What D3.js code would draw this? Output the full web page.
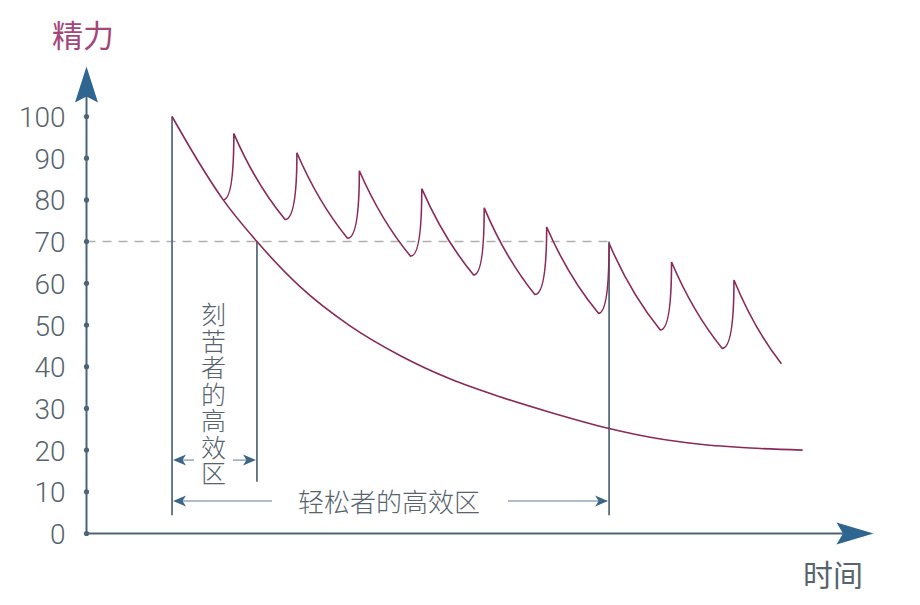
<!DOCTYPE html>
<html>
<head>
<meta charset="utf-8">
<script src="https://d3js.org/d3.v7.min.js"></script>
<style>
  body { margin: 0; background: #fff; }
  svg text { font-family: "Noto Sans CJK SC", "Noto Sans", sans-serif; }
</style>
</head>
<body>
<div id="chart"></div>
<script>
// y axis ticks
const yTicks = [0, 10, 20, 30, 40, 50, 60, 70, 80, 90, 100];

// 轻松者: sawtooth, peaks and troughs (time, 精力)
const peakTimes = [13.7, 23.6, 33.7, 43.7, 53.7, 63.7, 73.7, 83.7, 93.7, 103.7];
const peakValues = [100, 95.9, 91.3, 87, 82.7, 78.1, 73.5, 69.6, 65.1, 60.8];
const troughTimes = [21.9, 31.8, 41.8, 51.9, 62.0, 71.8, 82.0, 91.9, 101.8];
const troughValues = [80, 75.3, 70.8, 66.5, 62, 57.3, 52.8, 48.8, 44.4];
const endTime = 111.3;
const endValue = 40.7;

// 刻苦者: one long decay
const steadyTimes = [13.7, 18.2, 21.9, 27.3, 34.2, 42.2, 50.2, 58.2, 66.2, 74.2, 83.7, 90.3, 98.3, 106.3, 114.7];
const steadyValues = [100, 88.5, 80, 70, 59.2, 49.8, 42.7, 37.1, 32.8, 29.1, 25.2, 23.1, 21.4, 20.5, 20];

// annotations
const threshold = 70;
const hardZone = [13.7, 27.3];
const easyZone = [13.7, 83.7];
const hardLabel = "刻苦者的高效区";
const easyLabel = "轻松者的高效区";

const width = 920;
const height = 605;

const x = d3.scaleLinear().domain([0, 126]).range([86.5, 873.2]);
const y = d3.scaleLinear().domain([0, 100]).range([533.5, 116.5]);

const svg = d3.select("#chart")
    .append("svg")
    .attr("width", width)
    .attr("height", height);

const curveColor = "#8a2a5a";
const axisColor = "#4d6478";
const arrowFill = "#2f6690";
const textColor = "#56646d";

// stealth arrow head, tip at (0,0), pointing right
function headPath(len, half, notch) {
    return `M0,0 L${-len},${-half} L${-notch},0 L${-len},${half} Z`;
}

// dashed 70 line
svg.append("line")
    .attr("x1", x(0)).attr("x2", x(easyZone[1]))
    .attr("y1", y(threshold)).attr("y2", y(threshold))
    .attr("stroke", "#b0b0b0")
    .attr("stroke-width", 1.5)
    .attr("stroke-dasharray", "9 7");

// vertical markers
const markers = [
    { t: hardZone[0], top: 100, bottom: 4.4 },
    { t: hardZone[1], top: threshold, bottom: 12.4 },
    { t: easyZone[1], top: threshold, bottom: 4.4 }
];
svg.append("g")
    .selectAll("line")
    .data(markers)
    .join("line")
    .attr("x1", d => x(d.t)).attr("x2", d => x(d.t))
    .attr("y1", d => y(d.top)).attr("y2", d => y(d.bottom))
    .attr("stroke", "#4f6676")
    .attr("stroke-width", 1.7);

// y axis
const yAxis = d3.axisLeft(y).tickValues(yTicks).tickSize(0).tickPadding(21);
const gy = svg.append("g")
    .attr("transform", `translate(${x(0)},0)`)
    .call(yAxis);
gy.select(".domain").remove();
gy.selectAll("text")
    .attr("font-size", 28)
    .attr("font-weight", 300)
    .attr("fill", textColor)
    .attr("dy", "0.36em")
    .style("font-family", "Roboto, 'Liberation Sans', sans-serif");

svg.append("line")
    .attr("x1", x(0)).attr("x2", x(0))
    .attr("y1", y(0)).attr("y2", 96)
    .attr("stroke", axisColor).attr("stroke-width", 2);
svg.append("line")
    .attr("x1", x(0)).attr("x2", 846)
    .attr("y1", y(0)).attr("y2", y(0))
    .attr("stroke", axisColor).attr("stroke-width", 2);

svg.append("g")
    .selectAll("circle")
    .data(yTicks)
    .join("circle")
    .attr("cx", x(0))
    .attr("cy", d => y(d))
    .attr("r", 2.6)
    .attr("fill", axisColor);

// big axis arrows
svg.append("path")
    .attr("d", headPath(36, 11.5, 30))
    .attr("transform", `translate(${x(0)},66.5) rotate(-90)`)
    .attr("fill", arrowFill);
svg.append("path")
    .attr("d", headPath(37, 11, 30.5))
    .attr("transform", `translate(873.5,${y(0)})`)
    .attr("fill", arrowFill);

// axis titles
svg.append("text")
    .attr("x", 52).attr("y", 47)
    .attr("font-size", 31)
    .attr("fill", "#a3477a")
    .text("精力");
svg.append("text")
    .attr("x", 803).attr("y", 586)
    .attr("font-size", 30)
    .attr("fill", textColor)
    .text("时间");

// 刻苦者 curve
const line = d3.line()
    .x(d => x(d[0]))
    .y(d => y(d[1]))
    .curve(d3.curveMonotoneX);
svg.append("path")
    .attr("d", line(d3.zip(steadyTimes, steadyValues)))
    .attr("fill", "none")
    .attr("stroke", curveColor)
    .attr("stroke-width", 1.6);

// 轻松者 sawtooth (first drop runs along the 刻苦者 curve, so start at the first trough)
const saw = d3.path();
function decay(x0, y0, x1, y1) {
    saw.quadraticCurveTo(x0 + (x1 - x0) * 0.42, y0 + (y1 - y0) * 0.58, x1, y1);
}
troughTimes.forEach((tt, i) => {
    const px = x(peakTimes[i]), py = y(peakValues[i]);
    const tx = x(tt), ty = y(troughValues[i]);
    if (i === 0) saw.moveTo(tx, ty);
    else decay(px, py, tx, ty);
    const nx = x(peakTimes[i + 1]), ny = y(peakValues[i + 1]);
    saw.quadraticCurveTo(nx, ty, nx, ny);
});
const last = peakTimes.length - 1;
decay(x(peakTimes[last]), y(peakValues[last]), x(endTime), y(endValue));
svg.append("path")
    .attr("d", saw.toString())
    .attr("fill", "none")
    .attr("stroke", curveColor)
    .attr("stroke-width", 1.6)
    .attr("stroke-linejoin", "miter");

// zone arrows
function zoneArrow(t0, t1, level, gap0, gap1) {
    const g = svg.append("g");
    const yy = y(level);
    g.append("line")
        .attr("x1", x(t0) + 6).attr("x2", gap0)
        .attr("y1", yy).attr("y2", yy);
    g.append("line")
        .attr("x1", gap1).attr("x2", x(t1) - 6)
        .attr("y1", yy).attr("y2", yy);
    g.selectAll("line")
        .attr("stroke", "#93a8b6")
        .attr("stroke-width", 1.5);
    g.append("path")
        .attr("d", headPath(13, 5.5, 9.5))
        .attr("transform", `translate(${x(t0) + 1},${yy}) rotate(180)`)
        .attr("fill", "#3d6686");
    g.append("path")
        .attr("d", headPath(13, 5.5, 9.5))
        .attr("transform", `translate(${x(t1) - 1},${yy})`)
        .attr("fill", "#3d6686");
}
zoneArrow(hardZone[0], hardZone[1], 17.6, 194, 233);
zoneArrow(easyZone[0], easyZone[1], 7.8, 272, 508);

// zone labels
svg.append("text")
    .attr("x", 213.5)
    .attr("y", 302)
    .style("writing-mode", "vertical-rl")
    .attr("text-anchor", "start")
    .attr("font-size", 25)
    .attr("font-weight", 300)
    .attr("letter-spacing", 1.5)
    .attr("fill", textColor)
    .text(hardLabel);

svg.append("text")
    .attr("x", 389)
    .attr("y", 500)
    .attr("text-anchor", "middle")
    .attr("dominant-baseline", "central")
    .attr("font-size", 26)
    .attr("font-weight", 300)
    .attr("fill", textColor)
    .text(easyLabel);
</script>
</body>
</html>
